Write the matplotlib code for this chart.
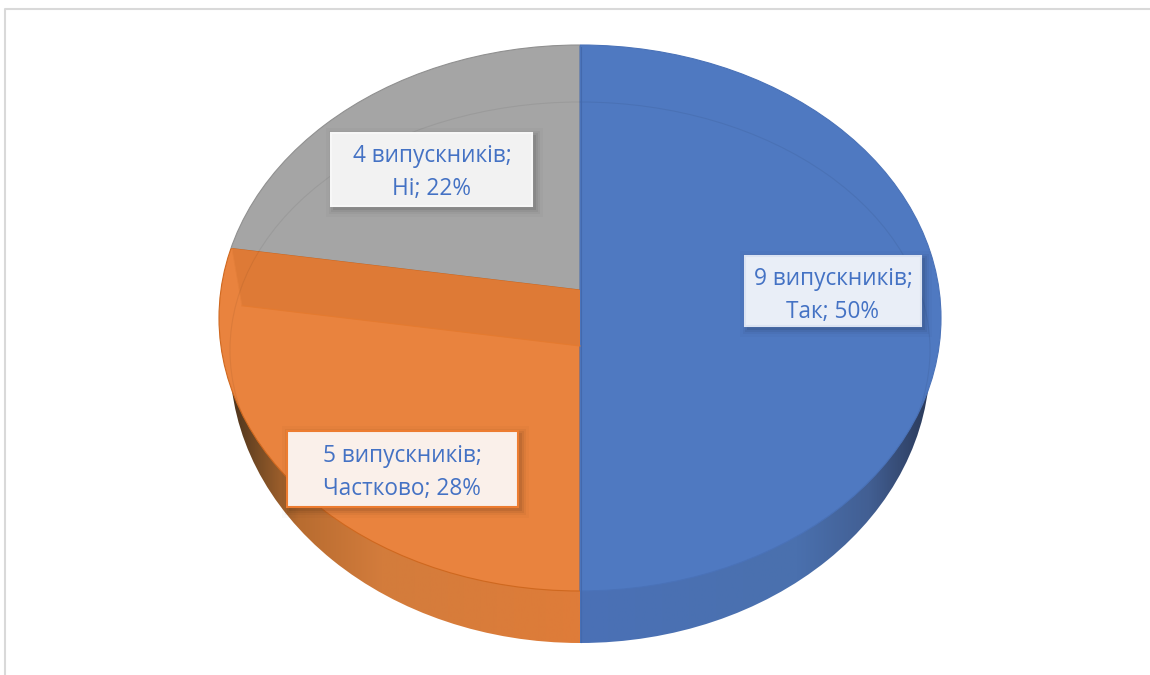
import numpy as np
from matplotlib import pyplot as plt
from matplotlib.colors import LinearSegmentedColormap
from matplotlib.patches import Ellipse, Polygon, Rectangle

plt.rcParams['font.family'] = ['Open Sans', 'DejaVu Sans']

categories = ['Так', 'Частково', 'Ні']
graduates = [9, 5, 4]
percents = [50, 28, 22]

k = 244 / 361  # vertical squash of the pie, x axis is in pixels


def py(y):
    return (675 - y) / k


fig = plt.figure(figsize=(11.5, 6.75), dpi=100)
ax = fig.add_axes([0, 0, 1, 1])


def ellipse(cy, rx, ry, **kw):
    e = Ellipse((580, py(cy)), 2 * rx, 2 * ry / k, **kw)
    ax.add_patch(e)
    return e


# side of the disc
bottom = ellipse(360, 350, 283, fc='none', ec='none', zorder=1)
side_orange = LinearSegmentedColormap.from_list('so', [(0, '#3a2a1a'), (0.11, '#7a4d25'), (0.22, '#b86c30'),
                                                       (0.45, '#d37c3c'), (1, '#df7c39')])
side_blue = LinearSegmentedColormap.from_list('sb', [(0, '#4a71b6'), (0.6, '#4a70ae'), (0.8, '#425f93'),
                                                     (1, '#26324e')])
ramp = np.linspace(0, 1, 256).reshape(1, -1)
im1 = ax.imshow(ramp, cmap=side_orange, extent=(220, 580, py(660), py(340)), aspect='auto', zorder=1)
im2 = ax.imshow(ramp, cmap=side_blue, extent=(580, 942, py(660), py(340)), aspect='auto', zorder=1)
im1.set_clip_path(bottom)
im2.set_clip_path(bottom)

# top face, big wedges cut down to the outer ellipse
top = ellipse(318, 361, 273, fc='none', ec='none', zorder=2)
wedges, _ = ax.pie(graduates, startangle=90, counterclock=False, center=(580, py(290)), radius=900,
                   colors=['#4f79c1', '#e9833e', '#a5a5a5'])
edges = ['#4a72b8', '#cf681f', '#909090']
for i, w in enumerate(wedges):
    w.set_zorder(3 - i * 0.1 + 0.2 * (i == 0))
    w.set_edgecolor(edges[i])
    w.set_linewidth(0.7)
    w.set_clip_on(True)
    w.set_clip_path(top)
    rim = ellipse(318, 361, 273, fc='none', ec=edges[i], lw=0.8, zorder=4)
    rim.set_clip_path(w.get_path(), w.get_transform())

# darker band on the cut face of the orange slice
end_angle = np.pi * 2 * (graduates[0] + graduates[1]) / sum(graduates)
dx, dy = np.sin(end_angle), np.cos(end_angle)
t_out = 348 / abs(dx)
t_in = 338 / abs(dx)
band = Polygon([(580, py(290)), (580 + t_out * dx, py(290) + t_out * dy),
                (580 + t_in * dx, py(346) + t_in * dy), (580, py(346))],
               fc='#de7a36', ec='none', zorder=3.5)
ax.add_patch(band)
ax.plot([580, 580 + t_in * dx], [py(346), py(346) + t_in * dy], color='#e47a30', lw=0.8, zorder=3.6)
ax.plot([580 + t_out * dx, 580 + t_in * dx], [py(290) + t_out * dy, py(346) + t_in * dy],
        color='#e47f3a', lw=0.6, zorder=3.6)

# faint inner ring
ring = ellipse(350, 350, 248, fc='none', ec='#000000', lw=0.8, alpha=0.06, zorder=3.7)
ring.set_clip_path(top)

ax.plot([580.5, 580.5], [py(47), py(642)], color='#4369ad', lw=0.8, zorder=4)

# labels
boxes = [(745, 256, 176, 70, '#e9eef7', '#dbe3f2', (833, 295)),
         (287, 431, 231, 76, '#faf0ea', '#ed7d31', (402, 472)),
         (331, 133, 201, 73, '#f2f2f2', '#f7f7f7', (432, 172))]
for i, (x, y, w, h, fc, ec, pos) in enumerate(boxes):
    # soft shadow, a few stacked rectangles
    for grow, a in [(8, 0.02), (5, 0.035), (3, 0.05), (1, 0.07)]:
        ax.add_patch(Rectangle((x + 3 - grow, py(y + h + 3 + grow)), w + 2 * grow, (h + 2 * grow) / k,
                               fc='k', ec='none', alpha=a, zorder=4.8))
    ax.add_patch(Rectangle((x, py(y + h)), w, h / k, fc=fc, ec=ec, lw=1.5, zorder=5))
    ax.text(pos[0], py(pos[1]), f'{graduates[i]} випускників;\n{categories[i]}; {percents[i]}%',
            ha='center', va='center', color='#4472c4', fontsize=16.3, linespacing=1.5, zorder=6)

# frame of the chart area
ax.plot([5, 5, 1150], [py(675), py(9), py(9)], color='#d9d9d9', lw=1.5, zorder=0)

ax.set_aspect('auto')
ax.set_xlim(0, 1150)
ax.set_ylim(0, py(0))
ax.axis('off')
plt.savefig('out.png', dpi=100)
